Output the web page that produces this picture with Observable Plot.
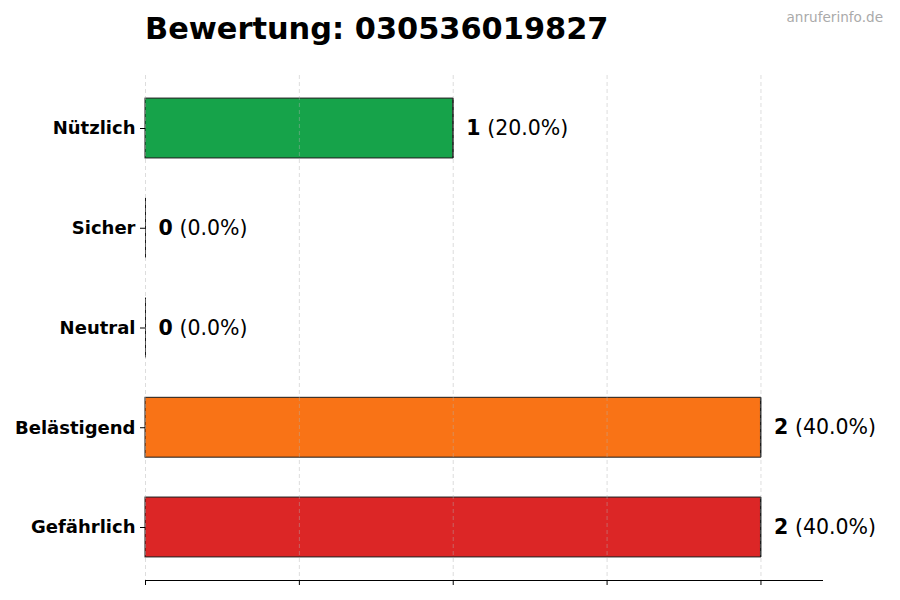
<!DOCTYPE html>
<html>
<head>
<meta charset="utf-8">
<script src="https://cdn.jsdelivr.net/npm/d3@7"></script>
<script src="https://cdn.jsdelivr.net/npm/@observablehq/plot@0.6"></script>
<style>
  html, body { margin: 0; padding: 0; background: #fff; }
  #wrap { position: relative; width: 900px; height: 600px; font-family: "DejaVu Sans", sans-serif; }
  #title { position: absolute; left: 145px; top: 11px; font-size: 30.4px; font-weight: bold; color: #000; white-space: nowrap; }
  #mark { position: absolute; right: 17px; top: 9px; font-size: 13.6px; color: #aaaaaa; white-space: nowrap; }
  #chart { position: absolute; left: 0; top: 0; }
</style>
</head>
<body>
<div id="wrap">
  <div id="chart"></div>
  <div id="title">Bewertung: 030536019827</div>
  <div id="mark">anruferinfo.de</div>
</div>
<script>
const categories = ["Nützlich", "Sicher", "Neutral", "Belästigend", "Gefährlich"];
const counts = [1, 0, 0, 2, 2];
const colors = ["#16a34a", "#3b82f6", "#9ca3af", "#f97316", "#dc2626"];
const xTicks = [0, 0.5, 1, 1.5, 2];

const total = d3.sum(counts);
const data = categories.map((c, i) => ({
  cat: c,
  value: counts[i],
  color: colors[i],
  pct: "(" + (total ? (counts[i] / total * 100) : 0).toFixed(1) + "%)"
}));

const plot = Plot.plot({
  width: 900,
  height: 600,
  marginTop: 75,
  marginBottom: 20,
  marginLeft: 145,
  marginRight: 78,
  style: { fontFamily: "DejaVu Sans, sans-serif", background: "#fff" },
  x: { domain: [0, 2.2], axis: null, label: null },
  y: { domain: categories, paddingInner: 0.4, paddingOuter: 0.2315, round: false, axis: null, label: null },
  marks: [
    Plot.barX(data, { x: "value", y: "cat", fill: "color", stroke: "#1a1a1a", strokeWidth: 1 }),
    Plot.tickX(data, { x: "value", y: "cat", stroke: "#1a1a1a", strokeWidth: 1 }),
    Plot.gridX(xTicks, { stroke: "#b0b0b0", strokeOpacity: 0.55, strokeDasharray: "4,3", strokeWidth: 0.8 }),
    Plot.frame({ anchor: "bottom", stroke: "#000", strokeWidth: 1 }),
    Plot.axisX({ ticks: xTicks, tickFormat: () => "", tickSize: 5, stroke: "#000", label: null }),
    Plot.axisY({ tickSize: 5, tickPadding: 5, fontSize: 18, fontWeight: "bold", color: "#000", stroke: "#000", label: null }),
    Plot.text(data, { x: "value", y: "cat", text: d => String(d.value), dx: 13, textAnchor: "start", fontSize: 20.5, fontWeight: "bold", fill: "#000" }),
    Plot.text(data, { x: "value", y: "cat", text: "pct", dx: 34, textAnchor: "start", fontSize: 20.5, fill: "#000" })
  ]
});
document.getElementById("chart").appendChild(plot);
</script>
</body>
</html>
